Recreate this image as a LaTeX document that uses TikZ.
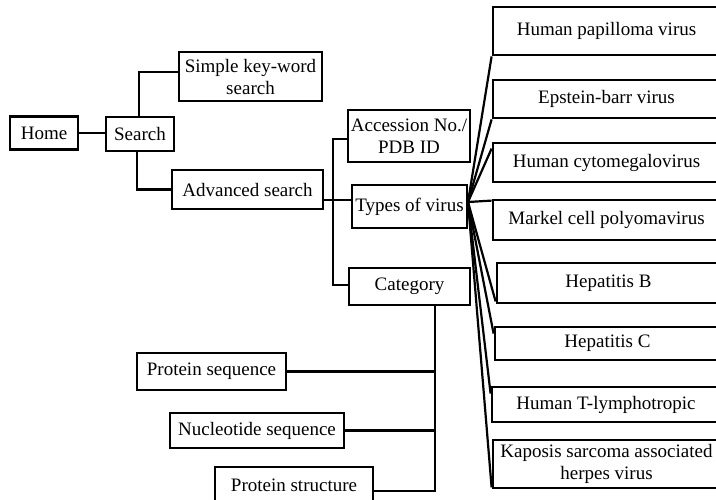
\documentclass[tikz,border=0pt]{standalone}
\usepackage{fontspec}
\setmainfont{Liberation Serif}
\begin{document}
\begin{tikzpicture}[x=1pt,y=-1pt,
  box/.style={draw, line width=2.8pt, inner sep=0pt, align=center,
    font=\fontsize{19}{22}\selectfont},
  conn/.style={line width=2.8pt},
  fan/.style={line width=2.2pt}]
\useasboundingbox (0,0) rectangle (716,499);
% nodes
\node[box, minimum width=68pt, minimum height=33pt] (home) at (44,133) {Home};
\node[box, minimum width=68pt, minimum height=34pt] (search) at (140,134) {Search};
\node[box, minimum width=143pt, minimum height=49pt] (simple) at (250.5,76.5) {Simple key-word\\search};
\node[box, minimum width=151pt, minimum height=39pt] (adv) at (247.5,189.5) {Advanced search};
\node[box, minimum width=122pt, minimum height=52pt] (acc) at (409,136) {Accession No./\\PDB ID};
\node[box, minimum width=115pt, minimum height=43pt] (types) at (409.5,206.5) {Types of virus};
\node[box, minimum width=121pt, minimum height=37pt] (cat) at (409.5,286.5) {Category};
\node[box, minimum width=227pt, minimum height=48pt] (hpv) at (606.5,31) {Human papilloma virus};
\node[box, minimum width=227pt, minimum height=38pt] (ebv) at (606.5,99) {Epstein-barr virus};
\node[box, minimum width=227pt, minimum height=39pt] (hcmv) at (606.5,162.5) {Human cytomegalovirus};
\node[box, minimum width=227pt, minimum height=40pt] (mcpv) at (606.5,220) {Markel cell polyomavirus};
\node[box, minimum width=223pt, minimum height=40pt] (hepb) at (608.5,283) {Hepatitis B};
\node[box, minimum width=225pt, minimum height=33pt] (hepc) at (607.5,343.5) {Hepatitis C};
\node[box, minimum width=228pt, minimum height=35pt] (htl) at (606,404.5) {Human T-lymphotropic};
\node[box, minimum width=227pt, minimum height=48pt] (kshv) at (606.5,464) {Kaposis sarcoma associated\\herpes virus};
\node[box, minimum width=149pt, minimum height=37pt] (pseq) at (211.5,371.5) {Protein sequence};
\node[box, minimum width=174pt, minimum height=35pt] (nseq) at (257,430.5) {Nucleotide sequence};
\node[box, minimum width=158pt, minimum height=36pt] (pstr) at (294,485) {Protein structure};
% helper coordinates
\coordinate (s1) at (139,72);
\coordinate (s2) at (137,189.5);
\coordinate (tmid) at (333,200);
\coordinate (ttop) at (333,139);
\coordinate (tbot) at (333,285);
\coordinate (tv) at (468,202);
\coordinate (ctop) at (435,305);
\coordinate (cbot) at (435,491);
% connectors
\draw[conn] (home.east) -- (search.west |- home.east);
\draw[conn] (search.north -| s1) |- (simple.west |- s1);
\draw[conn] (search.south -| s2) |- (adv.west);
\draw[conn] (adv.east |- tmid) -- (types.west |- tmid);
\draw[conn] (acc.west |- ttop) -- (ttop) -- (tbot) -- (cat.west |- tbot);
\draw[conn] (cat.south -| ctop) -- (cbot) -- (pstr.east |- cbot);
\draw[conn] (pseq.east) -- (pseq.east -| cbot);
\draw[conn] (nseq.east) -- (nseq.east -| cbot);
% fan
\draw[fan] (tv) -- (hpv.south west);
\draw[fan] (tv) -- (ebv.south west);
\draw[fan] (tv) -- ([yshift=-7pt]hcmv.north west);
\draw[fan] (tv) -- ([yshift=-2pt]mcpv.north west);
\draw[fan] (tv) -- ([yshift=3pt]hepb.south west);
\draw[fan] (tv) -- ([yshift=-8pt]hepc.north west);
\draw[fan] (tv) -- ([yshift=-8pt]htl.north west);
\draw[fan] (tv) -- ([yshift=2pt]kshv.south west);
\end{tikzpicture}
\end{document}
